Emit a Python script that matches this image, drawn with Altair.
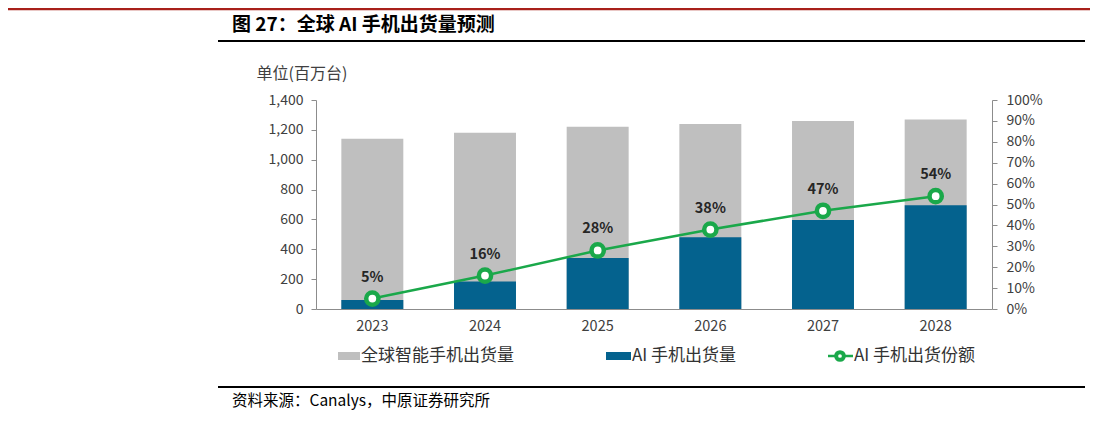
import altair as alt
import pandas as pd

years = ["2023", "2024", "2025", "2026", "2027", "2028"]
total_shipments = [1140, 1180, 1220, 1240, 1260, 1270]
ai_shipments = [60, 185, 342, 480, 596, 695]
ai_share = [5, 16, 28, 38, 47, 54]
series_names = ["全球智能手机出货量", "AI 手机出货量", "AI 手机出货份额"]
title_text = "图 27：全球 AI 手机出货量预测"
unit_text = "单位(百万台)"
source_text = "资料来源：Canalys，中原证券研究所"

df = pd.DataFrame({"year": years, "total": total_shipments, "ai": ai_shipments, "share": ai_share})

FONT = "Noto Sans CJK SC"
GRAY = "#BFBFBF"
BLUE = "#04628E"
GREEN = "#1AA84A"
AX = "#8C8C8C"
LBL = "#404040"

W, H = 676, 209
x_enc = alt.X("year:N", title=None,
              scale=alt.Scale(paddingInner=0.45, paddingOuter=0.225),
              axis=alt.Axis(labelAngle=0, ticks=False, domainColor=AX, labelPadding=10,
                            labelFontSize=14.5, labelColor=LBL, labelFont=FONT))

left_axis = alt.Axis(values=list(range(0, 1401, 200)),
                     labelExpr="format(datum.value, ',d')",
                     labelOverlap=False, grid=False,
                     domainColor=AX, tickColor=AX, tickSize=5, labelPadding=8,
                     labelFontSize=14, labelColor=LBL, labelFont=FONT)
left_scale = alt.Scale(domain=[0, 1400])

right_axis = alt.Axis(orient="right", values=list(range(0, 101, 10)),
                      labelExpr="datum.value + '%'", labelOverlap=False, grid=False,
                      domainColor=AX, tickColor=AX, tickSize=5, labelPadding=9,
                      labelFontSize=14, labelColor=LBL, labelFont=FONT)
right_scale = alt.Scale(domain=[0, 100])

base = alt.Chart(df)

bars_total = base.mark_bar(color=GRAY).encode(
    x=x_enc, y=alt.Y("total:Q", title=None, scale=left_scale, axis=left_axis))
bars_ai = base.mark_bar(color=BLUE).encode(
    x=x_enc, y=alt.Y("ai:Q", title=None, scale=left_scale, axis=left_axis))
bars = alt.layer(bars_total, bars_ai)

y_share = alt.Y("share:Q", title=None, scale=right_scale, axis=right_axis)

line = base.mark_line(color=GREEN, strokeWidth=2.5).encode(x=x_enc, y=y_share)
pts = base.mark_point(shape="circle", filled=True, fill="white", stroke=GREEN,
                      strokeWidth=4.5, size=150, opacity=1).encode(x=x_enc, y=y_share)
lbl = base.mark_text(dy=-21, fontSize=14.5, fontWeight="bold", color="#262626", font=FONT).encode(
    x=x_enc, y=y_share, text=alt.Text("label:N")
).transform_calculate(label="datum.share + '%'")

share_layer = alt.layer(line, pts, lbl)

# decorations (page coordinates relative to plot origin at (316,100))
one = pd.DataFrame({"k": [0]})
deco = alt.Chart(one)

red_line = deco.mark_rule(color="#A8201A", strokeWidth=2.5).encode(
    x=alt.value(-308), x2=alt.value(774), y=alt.value(-91))
title = deco.mark_text(align="left", baseline="middle", fontSize=19, fontWeight="bold",
                       font=FONT, color="#000000").encode(
    x=alt.value(-84), y=alt.value(-75), text=alt.value(title_text))
title_rule = deco.mark_rule(color="#000000", strokeWidth=2.2).encode(
    x=alt.value(-98), x2=alt.value(769), y=alt.value(-59))
unit = deco.mark_text(align="center", baseline="middle", fontSize=16, font=FONT,
                      color=LBL).encode(
    x=alt.value(-14), y=alt.value(-26), text=alt.value(unit_text))
bottom_rule = deco.mark_rule(color="#000000", strokeWidth=2.2).encode(
    x=alt.value(-98), x2=alt.value(769), y=alt.value(287))
source = deco.mark_text(align="left", baseline="middle", fontSize=15.5, font=FONT,
                        color="#000000").encode(
    x=alt.value(-84), y=alt.value(301), text=alt.value(source_text))

LY = 256
leg_gray = deco.mark_rect(color=GRAY).encode(
    x=alt.value(22), x2=alt.value(44), y=alt.value(LY - 4), y2=alt.value(LY + 4))
leg_gray_t = deco.mark_text(align="left", baseline="middle", fontSize=17, font=FONT,
                            color="#333333").encode(
    x=alt.value(45), y=alt.value(LY), text=alt.value(series_names[0]))
leg_blue = deco.mark_rect(color=BLUE).encode(
    x=alt.value(290), x2=alt.value(315), y=alt.value(LY - 4), y2=alt.value(LY + 4))
leg_blue_t = deco.mark_text(align="left", baseline="middle", fontSize=17, font=FONT,
                            color="#333333").encode(
    x=alt.value(316), y=alt.value(LY), text=alt.value(series_names[1]))
leg_green = deco.mark_rule(color=GREEN, strokeWidth=2.5).encode(
    x=alt.value(512), x2=alt.value(537), y=alt.value(LY))
leg_green_p = deco.mark_point(shape="circle", filled=True, fill="white", stroke=GREEN,
                              strokeWidth=4, size=60, opacity=1).encode(
    x=alt.value(524), y=alt.value(LY))
leg_green_t = deco.mark_text(align="left", baseline="middle", fontSize=17, font=FONT,
                             color="#333333").encode(
    x=alt.value(538), y=alt.value(LY), text=alt.value(series_names[2]))

decor = alt.layer(red_line, title, title_rule, unit, bottom_rule, source,
                  leg_gray, leg_gray_t, leg_blue, leg_blue_t,
                  leg_green, leg_green_p, leg_green_t)

chart = alt.layer(bars, share_layer, decor).resolve_scale(y="independent").properties(
    width=W, height=H,
    autosize=alt.AutoSizeParams(type="none"),
    padding={"left": 308, "top": 92, "right": 102, "bottom": 104},
).configure(background="white", view=alt.ViewConfig(stroke=None))

chart.save("out.html", embed_options={"renderer": "svg", "actions": False})
